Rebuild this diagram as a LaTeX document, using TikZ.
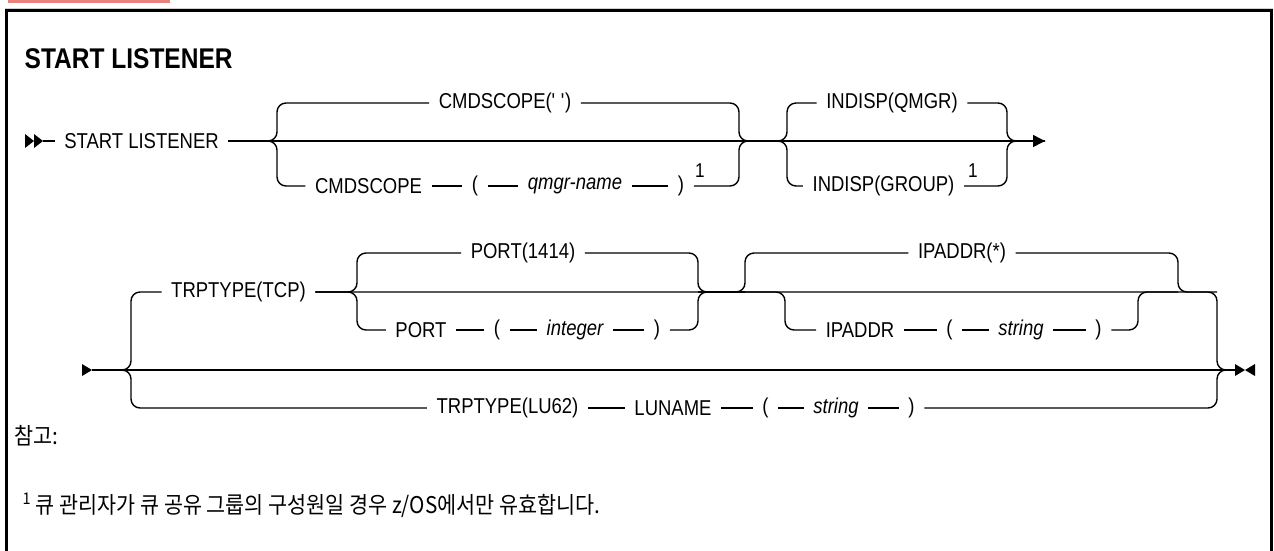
\documentclass[tikz,border=0pt]{standalone}
\usepackage{fontspec}
\setmainfont[FakeStretch=0.86]{Liberation Sans}
\newfontfamily\kofont[FakeStretch=0.9]{Noto Sans CJK KR}
\usetikzlibrary{arrows.meta}
\definecolor{tabpink}{RGB}{232,128,124}
\begin{document}
\begin{tikzpicture}[x=1pt, y=-1pt, line width=1.4pt, >={Triangle[length=12pt,width=12pt]},
    kw/.style={inner xsep=9pt, inner ysep=2pt, font=\fontsize{21.5}{24}\selectfont},
    var/.style={kw, font=\fontsize{21.5}{24}\selectfont\itshape},
    fnote/.style={inner sep=0pt, font=\fontsize{20}{22}\selectfont},
    rnd/.style={rounded corners=9pt}]
    \useasboundingbox (0,0) rectangle (1274,550);

    \fill[tabpink] (8,0) rectangle (170,3);
    \draw[gray!35, line width=1pt] (5,8) -- (1273,8);
    \draw[line width=2.5pt] (6.5,560) -- (6.5,10.5) -- (1271.5,10.5) -- (1271.5,560);

    \node[anchor=west, inner sep=0pt, font=\fontsize{28.5}{32}\selectfont\bfseries] (title) at (24,59) {START LISTENER};

    % first line
    \coordinate (s1) at (43,141);
    \coordinate (f1) at (277,141);
    \coordinate (j1) at (739,141);
    \coordinate (f2) at (787,141);
    \coordinate (j2) at (1007,141);
    \coordinate (e1) at (1045,141);

    \fill (25,134) -- (34,141) -- (25,148) -- cycle;
    \fill (34,134) -- (43,141) -- (34,148) -- cycle;
    \node[kw] (start) at (141.5,141) {START LISTENER};
    \draw (s1) -- (start);

    \node[kw] (cmddef) at (505,103) {CMDSCOPE(\textquotesingle{} \textquotesingle)};
    \node[kw] (cmd) at (368.5,186) {CMDSCOPE};
    \node[kw] (lp1) at (475,186) {(};
    \node[var] (qmgr) at (575,186) {qmgr-name};
    \node[kw] (rp1) at (681,186) {)};
    \node[fnote] (n1) at (700,171) {1};

    \node[kw] (qmgrd) at (892,103) {INDISP(QMGR)};
    \node[kw] (group) at (883.5,186) {INDISP(GROUP)};
    \node[fnote] (n2) at (973,171) {1};

    \draw[->] (start) -- (e1);
    \draw[rnd] (start) -- (f1) |- (cmddef.west);
    \draw[rnd] (cmddef.east) -| (j1) -- (f2);
    \draw[rnd] (start) -- (f1) |- (cmd.west);
    \draw (cmd) -- (lp1) -- (qmgr) -- (rp1);
    \draw[rnd] (rp1.east) -| (j1) -- (f2);

    \draw[rnd] (j1) -- (f2) |- (qmgrd.west);
    \draw[rnd] (qmgrd.east) -| (j2) -- (e1);
    \draw[rnd] (j1) -- (f2) |- (group.west);
    \draw[rnd] (group.east) -| (j2) -- (e1);

    % second line
    \coordinate (s2) at (92,370);
    \coordinate (f3) at (131,370);
    \coordinate (f4) at (357,292);
    \coordinate (j4) at (698,292);
    \coordinate (f5) at (745,292);
    \coordinate (f6) at (785,292);
    \coordinate (j6) at (1138,292);
    \coordinate (j5) at (1178,292);
    \coordinate (j3) at (1217,370);
    \coordinate (e2) at (1235,370);

    \fill (82,364) -- (92,370) -- (82,376) -- cycle;
    \fill (1235,364) -- (1245,370) -- (1235,376) -- cycle;
    \fill (1255,364) -- (1245,370) -- (1255,376) -- cycle;

    \node[kw] (tcp) at (238.5,292) {TRPTYPE(TCP)};
    \node[kw] (portd) at (523,253) {PORT(1414)};
    \node[kw] (port) at (421,330) {PORT};
    \node[kw] (lp2) at (497,330) {(};
    \node[var] (int) at (575,330) {integer};
    \node[kw] (rp2) at (657,330) {)};

    \node[kw] (ipd) at (962,253) {IPADDR(*)};
    \node[kw] (ip) at (860,330) {IPADDR};
    \node[kw] (lp3) at (949.5,330) {(};
    \node[var] (str1) at (1021,330) {string};
    \node[kw] (rp3) at (1098.5,330) {)};

    \node[kw] (lu) at (507.5,408) {TRPTYPE(LU62)};
    \node[kw] (luname) at (673,408) {LUNAME};
    \node[kw] (lp4) at (765.5,408) {(};
    \node[var] (str2) at (836,408) {string};
    \node[kw] (rp4) at (911.5,408) {)};

    \draw (s2) -- (e2);
    \draw[rnd] (s2) -- (f3) |- (tcp.west);
    \draw[rnd] (tcp.east) -| (j3) -- (e2);

    \draw[rnd] (tcp.east) -- (f4) |- (portd.west);
    \draw[rnd] (portd.east) -| (j4) -- (f5);
    \draw[rnd] (tcp.east) -- (f4) |- (port.west);
    \draw (port) -- (lp2) -- (int) -- (rp2);
    \draw[rnd] (rp2.east) -| (j4) -- (f5);

    \draw[rnd] (j4) -- (f5) |- (ipd.west);
    \draw[rnd] (ipd.east) -| (j5) -- (j3 |- j5);
    \draw[rnd] (j4) -- (f6) |- (ip.west);
    \draw (ip) -- (lp3) -- (str1) -- (rp3);
    \draw[rnd] (rp3.east) -| (j6) -- (j5);

    \draw[rnd] (s2) -- (f3) |- (lu.west);
    \draw (lu) -- (luname) -- (lp4) -- (str2) -- (rp4);
    \draw[rnd] (rp4.east) -| (j3) -- (e2);

    % notes
    \node[anchor=west, inner sep=0pt, font=\kofont\fontsize{23}{27}\selectfont] (note) at (14,436) {참고:};
    \node[anchor=west, inner sep=0pt, font=\kofont\fontsize{23}{27}\selectfont] (fn1) at (22,505) {\textsuperscript{1} 큐 관리자가 큐 공유 그룹의 구성원일 경우 z/OS에서만 유효합니다.};
\end{tikzpicture}
\end{document}
